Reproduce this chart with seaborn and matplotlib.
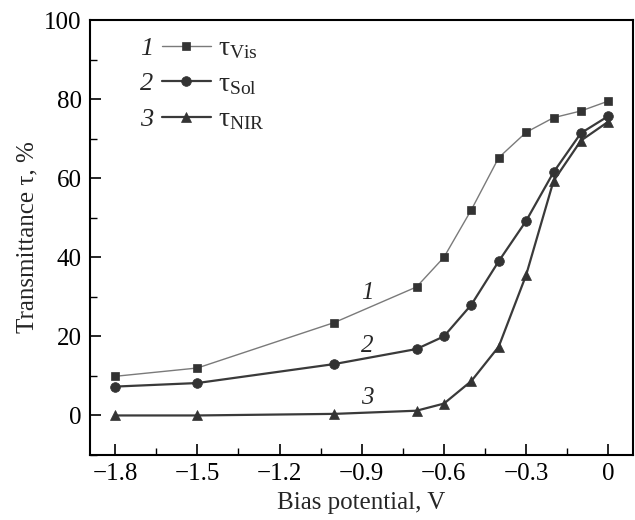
import pandas as pd
import matplotlib
matplotlib.use("Agg")
import matplotlib.pyplot as plt
import seaborn as sns
from matplotlib.ticker import MultipleLocator

# Data
bias = [-1.8, -1.5, -1.0, -0.7, -0.6, -0.5, -0.4, -0.3, -0.2, -0.1, 0.0]
tau_vis = [9.9, 12.0, 23.5, 32.5, 40.0, 52.0, 65.2, 71.6, 75.3, 77.0, 79.5]
tau_sol = [7.3, 8.2, 13.0, 16.8, 20.0, 28.0, 39.0, 49.2, 61.5, 71.4, 75.7]
tau_nir = [0.0, 0.0, 0.4, 1.2, 3.0, 8.7, 17.4, 35.5, 59.3, 69.5, 74.3]
series_names = ["Vis", "Sol", "NIR"]
curve_numbers = ["1", "2", "3"]

df = pd.DataFrame({
    "bias": bias * 3,
    "tau": tau_vis + tau_sol + tau_nir,
    "series": sum([[s] * len(bias) for s in series_names], []),
})

sns.set_theme(style="ticks")
plt.rcParams["font.family"] = ["Liberation Serif", "DejaVu Serif"]
plt.rcParams["mathtext.fontset"] = "custom"
plt.rcParams["mathtext.rm"] = "Liberation Serif"
plt.rcParams["mathtext.it"] = "Liberation Serif:italic"

fig = plt.figure(figsize=(6.35, 5.2), dpi=100)
ax = fig.add_axes([0.1417, 0.125, 0.8551, 0.8365])

styles = {
    "Vis": dict(marker="s", color="#7a7a7a", lw=1.0, ms=6),
    "Sol": dict(marker="o", color="#3a3a3a", lw=1.6, ms=7),
    "NIR": dict(marker="^", color="#3a3a3a", lw=1.6, ms=7),
}
for name in series_names:
    st = styles[name]
    sns.lineplot(data=df[df["series"] == name], x="bias", y="tau", ax=ax,
                 color=st["color"], lw=st["lw"], marker=st["marker"],
                 markersize=st["ms"], markerfacecolor="#333333",
                 markeredgecolor="#333333", markeredgewidth=0.5,
                 label=r"$\mathrm{\tau}_{\mathrm{" + name + "}}$")

ax.set_xlim(-1.892, 0.09)
ax.set_ylim(-10, 100)
ax.xaxis.set_minor_locator(MultipleLocator(0.15))
ax.yaxis.set_major_locator(MultipleLocator(20))
ax.yaxis.set_minor_locator(MultipleLocator(10))
ax.set_xticks([-1.8, -1.5, -1.2, -0.9, -0.6, -0.3, 0.0])
ax.set_xticklabels(["\u22121.8", "\u22121.5", "\u22121.2", "\u22120.9",
                    "\u22120.6", "\u22120.3", "0"])
ax.tick_params(which="both", direction="in", labelsize=18, colors="black", pad=6)
ax.tick_params(which="major", length=8, width=1.2)
ax.tick_params(which="minor", length=5, width=1.0)
for sp in ax.spines.values():
    sp.set_linewidth(1.5)
    sp.set_color("black")
    sp.set_visible(True)

ax.set_xlabel("Bias potential, V", fontsize=18, labelpad=5)
ax.set_ylabel("Transmittance \u03c4, %", fontsize=18, labelpad=4)

leg = ax.legend(loc="upper left", bbox_to_anchor=(0.1326, 0.963), frameon=False,
                fontsize=20, handlelength=1.75, handletextpad=0.25,
                labelspacing=0.36, borderpad=0, borderaxespad=0)

# curve numbers in the legend and on the curves
for i, num in enumerate(curve_numbers):
    ax.text(0.105, 0.934 - i * 0.0816, num, transform=ax.transAxes,
            fontsize=19, style="italic", ha="center", va="center")
for num, yv in zip(curve_numbers, [31.0, 17.5, 4.4]):
    ax.text(-0.88, yv, num, fontsize=18, style="italic", ha="center", va="center")

fig.savefig("out.png", dpi=100)
